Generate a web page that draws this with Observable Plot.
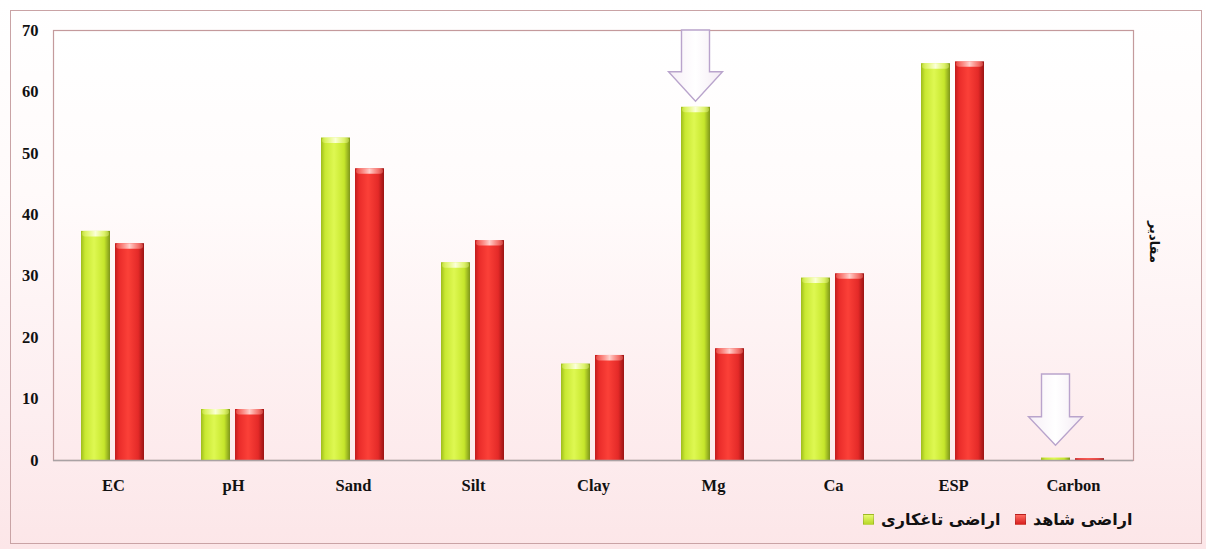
<!DOCTYPE html>
<html>
<head>
<meta charset="utf-8">
<script src="https://cdn.jsdelivr.net/npm/d3@7"></script>
<script src="https://cdn.jsdelivr.net/npm/@observablehq/plot@0.6"></script>
<style>
  html, body { margin: 0; padding: 0; background: #fff; }
  #wrap {
    position: relative; width: 1206px; height: 549px; overflow: hidden;
    background: linear-gradient(to bottom, #ffffff 0%, #fffafa 35%, #fdeef0 75%, #fce6e8 100%);
  }
  #border {
    position: absolute; left: 10px; top: 10px; width: 1192px; height: 534px;
    border: 1px solid #c9a3a5; box-sizing: border-box; pointer-events: none;
  }
  #chart { position: absolute; left: 0; top: 0; }
  #legend {
    position: absolute; left: 0; top: 507px; width: 1206px; height: 32px;
    font-family: "DejaVu Sans", sans-serif; font-weight: bold; font-size: 16px; color: #111;
  }
  .item { position: absolute; top: 3px; display: flex; align-items: center; direction: ltr; }
  .sw { width: 9px; height: 9px; margin-right: 7px; border: 1px solid rgba(0,0,0,0.15); }
</style>
</head>
<body>
<div id="wrap">
  <div id="chart"></div>
  <div id="border"></div>
  <div id="legend"></div>
</div>
<script>
// ---- data ----
const categories = ["EC", "pH", "Sand", "Silt", "Clay", "Mg", "Ca", "ESP", "Carbon"];
const afforested = [37.3, 8.3, 52.5, 32.2, 15.7, 57.5, 29.7, 64.6, 0.4];   // اراضی تاغکاری
const control    = [35.3, 8.3, 47.5, 35.8, 17.1, 18.2, 30.4, 64.9, 0.3];   // اراضی شاهد
const yTicks = [0, 10, 20, 30, 40, 50, 60, 70];
const seriesNames = ["اراضی تاغکاری", "اراضی شاهد"];
const yTitle = "مقادیر";
// annotation arrows (category, top value, neck value, tip value)
const arrowCats = ["Mg", "Carbon"];
const arrowTop  = [70, 14.0];
const arrowNeck = [63.2, 7.05];
const arrowTip  = [58.4, 2.4];

const greenData = categories.map((c, i) => ({cat: c, v: afforested[i]}));
const redData = categories.map((c, i) => ({cat: c, v: control[i]}));

const W = 1206, H = 505;
const serif = "'Liberation Serif', 'DejaVu Serif', serif";

const plot = Plot.plot({
  width: W, height: H,
  marginLeft: 53, marginRight: 73, marginTop: 30, marginBottom: 45,
  style: {background: "transparent", fontFamily: serif},
  x: {domain: categories, padding: 0, label: null},
  y: {domain: [0, 70], label: null},
  marks: [
    Plot.frame({fill: "url(#plotBg)", stroke: "#c49a9c", strokeWidth: 1.2}),
    Plot.axisY({ticks: yTicks, tickSize: 0, tickPadding: 15, fontSize: 16.5, fontWeight: "bold", fill: "#111", tickFormat: d => d}),
    Plot.axisX({tickSize: 0, tickPadding: 19, fontSize: 16.5, fontWeight: "bold", fill: "#111"}),
    Plot.barY(greenData, {x: "cat", y: "v", insetLeft: 28, insetRight: 63, fill: "url(#gGreen)"}),
    Plot.barY(redData, {x: "cat", y: "v", insetLeft: 62, insetRight: 29, fill: "url(#gRed)"}),
    Plot.barY(greenData.filter(d => d.v > 2), {x: "cat", y1: d => d.v - 0.9, y2: "v", insetLeft: 29, insetRight: 64, fill: "url(#gGreenTop)", rx: 3}),
    Plot.barY(redData.filter(d => d.v > 2), {x: "cat", y1: d => d.v - 0.9, y2: "v", insetLeft: 63, insetRight: 30, fill: "url(#gRedTop)", rx: 3}),
    Plot.ruleY([0], {stroke: "#a9a2a4", strokeWidth: 1.5})
  ]
});

// gradients
const defs = `
<defs>
  <linearGradient id="plotBg" x1="0" y1="0" x2="0" y2="1">
    <stop offset="0%" stop-color="#ffffff"/>
    <stop offset="40%" stop-color="#fffbfb"/>
    <stop offset="100%" stop-color="#fdeaec"/>
  </linearGradient>
  <linearGradient id="gGreen" x1="0" y1="0" x2="1" y2="0">
    <stop offset="0%" stop-color="#9fbc1c"/>
    <stop offset="14%" stop-color="#c9e832"/>
    <stop offset="45%" stop-color="#def852"/>
    <stop offset="80%" stop-color="#c6e62c"/>
    <stop offset="100%" stop-color="#7e961a"/>
  </linearGradient>
  <linearGradient id="gRed" x1="0" y1="0" x2="1" y2="0">
    <stop offset="0%" stop-color="#c01c1c"/>
    <stop offset="14%" stop-color="#ea2c2a"/>
    <stop offset="45%" stop-color="#fb4038"/>
    <stop offset="80%" stop-color="#e42a28"/>
    <stop offset="100%" stop-color="#9a1414"/>
  </linearGradient>
  <linearGradient id="gGreenTop" x1="0" y1="0" x2="1" y2="0">
    <stop offset="0%" stop-color="#e4f870" stop-opacity="0.4"/>
    <stop offset="50%" stop-color="#fbffd8"/>
    <stop offset="100%" stop-color="#e4f870" stop-opacity="0.4"/>
  </linearGradient>
  <linearGradient id="gRedTop" x1="0" y1="0" x2="1" y2="0">
    <stop offset="0%" stop-color="#ff8a80" stop-opacity="0.4"/>
    <stop offset="50%" stop-color="#ffd0cc"/>
    <stop offset="100%" stop-color="#ff8a80" stop-opacity="0.4"/>
  </linearGradient>
  <linearGradient id="gArrow" x1="0" y1="0" x2="1" y2="0">
    <stop offset="0%" stop-color="#f6eef6"/>
    <stop offset="50%" stop-color="#ffffff"/>
    <stop offset="100%" stop-color="#f3eaf3"/>
  </linearGradient>
</defs>`;
plot.insertAdjacentHTML("afterbegin", defs);

// arrows via scales
const xs = plot.scale("x"), ys = plot.scale("y");
const bw = xs.bandwidth;
const svg = d3.select(plot);
arrowCats.forEach((c, i) => {
  const x0 = xs.apply(c);
  const sl = x0 + 28.5, sr = x0 + bw - 63.5;
  const cx = (sl + sr) / 2;
  const hl = sl - 13, hr = sr + 13;
  const yt = ys.apply(arrowTop[i]), yn = ys.apply(arrowNeck[i]), yp = ys.apply(arrowTip[i]);
  const pts = [[sl, yt], [sr, yt], [sr, yn], [hr, yn], [cx, yp], [hl, yn], [sl, yn]];
  svg.append("polygon")
    .attr("points", pts.map(p => p.join(",")).join(" "))
    .attr("fill", "url(#gArrow)")
    .attr("stroke", "#b9a4cc")
    .attr("stroke-width", 1.4)
    .attr("stroke-linejoin", "miter");
});

// right axis title
svg.append("text")
  .attr("transform", `translate(1153, 242) rotate(90)`)
  .attr("text-anchor", "middle")
  .attr("dominant-baseline", "middle")
  .attr("font-family", "'DejaVu Sans', sans-serif")
  .attr("font-weight", "bold")
  .attr("font-size", 13)
  .attr("fill", "#111")
  .text(yTitle);

document.getElementById("chart").appendChild(plot);

// legend
const legend = document.getElementById("legend");
const items = [
  {name: seriesNames[0], color: "linear-gradient(#e8fb70, #b8d828)", left: 863},
  {name: seriesNames[1], color: "linear-gradient(#ff6a60, #d82020)", left: 1015}
];
items.forEach(it => {
  const d = document.createElement("div");
  d.className = "item";
  d.style.left = it.left + "px";
  const sw = document.createElement("span");
  sw.className = "sw";
  sw.style.background = it.color;
  const t = document.createElement("span");
  t.textContent = it.name;
  t.style.direction = "rtl";
  d.appendChild(sw); d.appendChild(t);
  legend.appendChild(d);
});
</script>
</body>
</html>
